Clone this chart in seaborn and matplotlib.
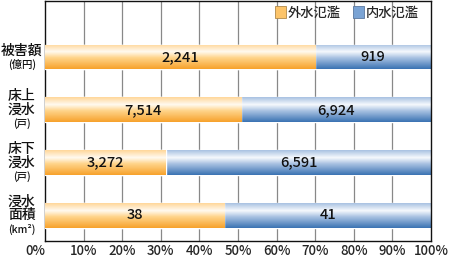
import numpy as np
import pandas as pd
import matplotlib
matplotlib.use("Agg")
import matplotlib.pyplot as plt
from matplotlib.colors import LinearSegmentedColormap
from matplotlib.patches import Patch
import seaborn as sns

# ---- data ----
categories = ["被害額", "床上浸水", "床下浸水", "浸水面積"]
cat_lines = [["被害額"], ["床上", "浸水"], ["床下", "浸水"], ["浸水", "面積"]]
cat_units = ["(億円)", "(戸)", "(戸)", "(km²)"]
outer_values = ["2,241", "7,514", "3,272", "38"]
inner_values = ["919", "6,924", "6,591", "41"]
outer_share = [70.0, 50.8, 31.3, 46.4]
total_share = [100, 100, 100, 100]
series_names = ["外水氾濫", "内水氾濫"]
xticks = [0, 10, 20, 30, 40, 50, 60, 70, 80, 90, 100]
xtick_labels = [f"{t}%" for t in xticks]

df = pd.DataFrame({"cat": categories, "outer": outer_share, "total": total_share})

sns.set_style("white")
plt.rcParams["font.family"] = ["Noto Sans CJK JP", "DejaVu Sans"]

fig = plt.figure(figsize=(4.5, 2.58), dpi=100)
ax = fig.add_axes([0.1, 0.066, 0.858, 0.93])

sns.barplot(data=df, x="total", y="cat", orient="h", color="#5b8fca",
            width=0.47, ax=ax, zorder=2, saturation=1)
sns.barplot(data=df, x="outer", y="cat", orient="h", color="#fbb84e",
            width=0.47, ax=ax, zorder=3, saturation=1)

orange_cmap = LinearSegmentedColormap.from_list(
    "o", [(0, "#ffd79a"), (0.3, "#fffaf0"), (0.55, "#ffd48a"), (1, "#f7a22c")])
blue_cmap = LinearSegmentedColormap.from_list(
    "b", [(0, "#a9c2e2"), (0.3, "#f6f9fd"), (0.55, "#a9c2e2"), (1, "#3b73b3")])
grad = np.linspace(0, 1, 64).reshape(-1, 1)

n = len(categories)
for i, p in enumerate(ax.patches):
    cmap = blue_cmap if i < n else orange_cmap
    x0, y0 = p.get_x(), p.get_y()
    w, h = p.get_width(), p.get_height()
    z = 2.5 if i < n else 3.5
    im = ax.imshow(grad, cmap=cmap, aspect="auto", zorder=z,
                   extent=[x0, x0 + w, y0 + h, y0], interpolation="bilinear")
    im.set_clip_path(p)

ax.set_xlim(0, 100)
ax.set_ylim(3.49, -1.06)
ax.set_xticks(xticks)
ax.set_xticklabels(xtick_labels, fontsize=9.5, fontweight="medium")
ax.get_xticklabels()[0].set_horizontalalignment("right")
ax.set_yticks([])
ax.set_xlabel("")
ax.set_ylabel("")
for t in xticks[1:-1]:
    ax.axvline(t, color="#888888", lw=0.9, zorder=1)
ax.tick_params(axis="x", length=0, pad=2)
for s in ax.spines.values():
    s.set_color("#111111")
    s.set_linewidth(1.0)

# value labels
for i in range(n):
    o = outer_share[i]
    ax.text(o / 2, i, outer_values[i], ha="center", va="center",
            fontsize=10.5, fontweight="medium", color="#111111", zorder=5)
    ax.text(o + (100 - o) / 2, i, inner_values[i], ha="center", va="center",
            fontsize=10.5, fontweight="medium", color="#111111", zorder=5)

# category labels
trans = ax.get_yaxis_transform()
line_h = 0.25
for i in range(n):
    lines = cat_lines[i]
    total = len(lines) + 1
    start = i - (total - 1) * line_h / 2
    for j, ln in enumerate(lines):
        ax.text(-0.06, start + j * line_h, ln, transform=trans, ha="center",
                va="center", fontsize=10, fontweight="medium",
                color="#111111", clip_on=False)
    ax.text(-0.06, start + len(lines) * line_h + 0.02, cat_units[i],
            transform=trans, ha="center", va="center", fontsize=7.5,
            fontweight="medium", color="#111111", clip_on=False)

handles = [Patch(facecolor="#fcc46a", edgecolor="#b0894a", lw=0.6),
           Patch(facecolor="#7aa3d4", edgecolor="#5a78a0", lw=0.6)]
leg = ax.legend(handles, series_names, loc="upper right", ncol=2,
                frameon=False, prop={"size": 9.5, "weight": "medium"},
                handlelength=0.8, handleheight=1.0,
                handletextpad=0.2, columnspacing=0.9,
                bbox_to_anchor=(1.0, 1.03))

fig.savefig("out.png", dpi=100)
